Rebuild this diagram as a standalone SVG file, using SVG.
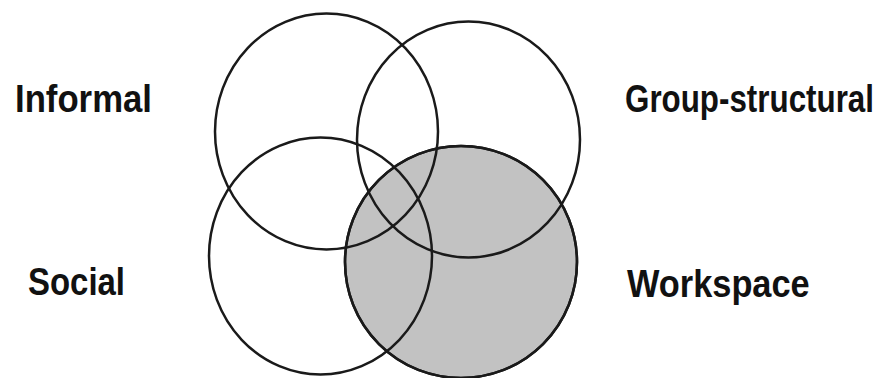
<svg xmlns="http://www.w3.org/2000/svg" width="889" height="378" viewBox="0 0 889 378">
<style>
.c{fill:none;stroke:#1a1a1a;stroke-width:2.5}
.g{fill:#c2c2c2;stroke:#1a1a1a;stroke-width:2.5}
.t{font-family:"Liberation Sans",Arial,sans-serif;font-weight:bold;font-size:38px;fill:#111}
</style>
<rect width="889" height="378" fill="#fff"/>
<g id="workspace-circle"><ellipse class="g" cx="461" cy="262" rx="116" ry="116"/></g>
<g id="informal-circle"><ellipse class="c" cx="326.5" cy="131.5" rx="111.5" ry="118"/></g>
<g id="group-structural-circle"><ellipse class="c" cx="468.5" cy="139.5" rx="111.5" ry="118"/></g>
<g id="social-circle"><ellipse class="c" cx="320.5" cy="256" rx="111.5" ry="118.5"/></g>
<g id="workspace-outline"><ellipse class="c" cx="461" cy="262" rx="116" ry="116"/></g>
<g id="label-informal"><text class="t" transform="translate(15,112) scale(0.91,1)" textLength="150.5" lengthAdjust="spacingAndGlyphs">Informal</text></g>
<g id="label-group-structural"><text class="t" transform="translate(625,112) scale(0.83,1)" textLength="300" lengthAdjust="spacingAndGlyphs">Group-structural</text></g>
<g id="label-social"><text class="t" transform="translate(28,295) scale(0.87,1)" textLength="111.5" lengthAdjust="spacingAndGlyphs">Social</text></g>
<g id="label-workspace"><text class="t" transform="translate(627,297) scale(0.9,1)" textLength="203" lengthAdjust="spacingAndGlyphs">Workspace</text></g>
</svg>
